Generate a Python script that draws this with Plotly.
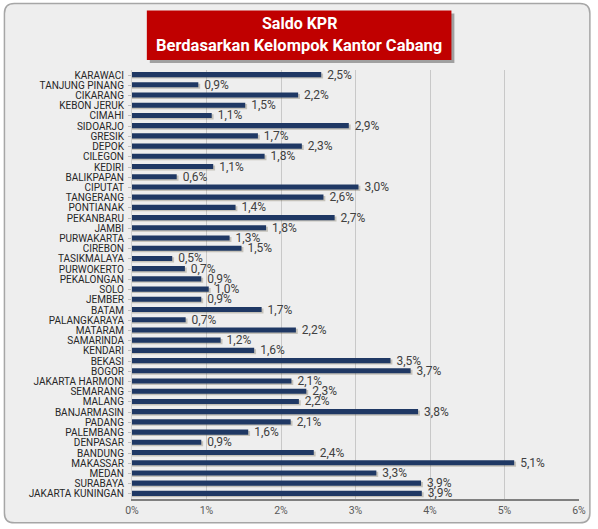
import plotly.graph_objects as go

branches = ["KARAWACI", "TANJUNG PINANG", "CIKARANG", "KEBON JERUK", "CIMAHI", "SIDOARJO",
            "GRESIK", "DEPOK", "CILEGON", "KEDIRI", "BALIKPAPAN", "CIPUTAT", "TANGERANG",
            "PONTIANAK", "PEKANBARU", "JAMBI", "PURWAKARTA", "CIREBON", "TASIKMALAYA",
            "PURWOKERTO", "PEKALONGAN", "SOLO", "JEMBER", "BATAM", "PALANGKARAYA", "MATARAM",
            "SAMARINDA", "KENDARI", "BEKASI", "BOGOR", "JAKARTA HARMONI", "SEMARANG", "MALANG",
            "BANJARMASIN", "PADANG", "PALEMBANG", "DENPASAR", "BANDUNG", "MAKASSAR", "MEDAN",
            "SURABAYA", "JAKARTA KUNINGAN"]

share_pct = [2.54, 0.89, 2.23, 1.52, 1.07, 2.91, 1.69, 2.28, 1.78, 1.09, 0.60, 3.04, 2.57,
             1.39, 2.72, 1.80, 1.31, 1.47, 0.54, 0.71, 0.93, 1.03, 0.93, 1.74, 0.72, 2.20,
             1.19, 1.64, 3.47, 3.74, 2.14, 2.34, 2.24, 3.84, 2.13, 1.56, 0.93, 2.44, 5.13,
             3.28, 3.88, 3.89]

value_labels = ["2,5%", "0,9%", "2,2%", "1,5%", "1,1%", "2,9%", "1,7%", "2,3%", "1,8%", "1,1%",
                "0,6%", "3,0%", "2,6%", "1,4%", "2,7%", "1,8%", "1,3%", "1,5%", "0,5%", "0,7%",
                "0,9%", "1,0%", "0,9%", "1,7%", "0,7%", "2,2%", "1,2%", "1,6%", "3,5%", "3,7%",
                "2,1%", "2,3%", "2,2%", "3,8%", "2,1%", "1,6%", "0,9%", "2,4%", "5,1%", "3,3%",
                "3,9%", "3,9%"]

x_ticks = [0, 1, 2, 3, 4, 5, 6]
x_tick_labels = ["0%", "1%", "2%", "3%", "4%", "5%", "6%"]

title_lines = ["Saldo KPR", "Berdasarkan Kelompok Kantor Cabang"]

W, H = 598, 529
ML, MR, MT, MB = 132, 14, 70, 27
PW, PH = W - ML - MR, H - MT - MB
FONT = "Roboto, sans-serif"


def px(x):
    return (x - ML) / PW


def py(y):
    return 1 - (y - MT) / PH


fig = go.Figure()
# soft shadow behind bars
fig.add_trace(go.Bar(
    y=branches, x=[v + 0.025 for v in share_pct], orientation="h",
    width=0.5, offset=-0.16,
    marker=dict(color="rgba(90,80,50,0.28)", line=dict(width=0)),
    hoverinfo="skip",
))
fig.add_trace(go.Bar(
    y=branches, x=share_pct, orientation="h",
    width=0.5, offset=-0.3,
    marker=dict(color="#1F3864", line=dict(width=0)),
    text=["\u00a0\u00a0" + t for t in value_labels], textposition="outside", cliponaxis=False,
    constraintext="none",
    textfont=dict(family=FONT, size=12, color="#404040"),
    hoverinfo="skip",
))

# outer frame with rounded corners
x0, x1, y0, y1, r = px(3), px(595), py(3), py(526), 10
rx, ry = r / PW, r / PH
path = (f"M {x0+rx},{y0} L {x1-rx},{y0} Q {x1},{y0} {x1},{y0-ry} "
        f"L {x1},{y1+ry} Q {x1},{y1} {x1-rx},{y1} L {x0+rx},{y1} Q {x0},{y1} {x0},{y1+ry} "
        f"L {x0},{y0-ry} Q {x0},{y0} {x0+rx},{y0} Z")

shapes = [
    dict(type="path", path=path, xref="paper", yref="paper", layer="below",
         fillcolor="#EEEEEE", line=dict(color="#A6A6A6", width=1.5)),
    dict(type="rect", xref="paper", yref="paper", layer="below",
         x0=px(150), x1=px(458), y0=py(13), y1=py(63), fillcolor="#A0A0A0", line=dict(width=0)),
    dict(type="rect", xref="paper", yref="paper", layer="below",
         x0=px(147), x1=px(455), y0=py(10), y1=py(60), fillcolor="#C00000", line=dict(width=0)),
]

annotations = [
    dict(text="<b>" + title_lines[0] + "</b>", x=px(301), y=py(23), xref="paper", yref="paper",
         showarrow=False, xanchor="center", yanchor="middle",
         font=dict(family=FONT, size=16, color="white")),
    dict(text="<b>" + title_lines[1] + "</b>", x=px(301), y=py(45), xref="paper", yref="paper",
         showarrow=False, xanchor="center", yanchor="middle",
         font=dict(family=FONT, size=16.5, color="white")),
]

fig.update_layout(
    width=W, height=H,
    margin=dict(l=ML, r=MR, t=MT, b=MB, pad=0),
    paper_bgcolor="white", plot_bgcolor="#FFF2CC",
    showlegend=False, barmode="overlay",
    shapes=shapes, annotations=annotations,
    xaxis=dict(range=[0, 6], tickvals=x_ticks, ticktext=x_tick_labels, showgrid=True,
               gridcolor="#C8C8C8", gridwidth=1, zeroline=False, showline=True,
               linecolor="#7F7F7F", linewidth=2, ticks="",
               tickfont=dict(family=FONT, size=10.5, color="#595959")),
    yaxis=dict(autorange="reversed", tickmode="array", tickvals=branches,
               showgrid=False, showline=True, linecolor="#D0D0D0",
               ticks="outside", ticklen=3, tickcolor="#BFBFBF", ticklabelstandoff=2,
               tickfont=dict(family=FONT, size=10, color="#262626")),
)

fig.write_html("out.html", config={"displayModeBar": False},
               post_script="document.body.style.margin='0';document.body.style.overflow='hidden';")
